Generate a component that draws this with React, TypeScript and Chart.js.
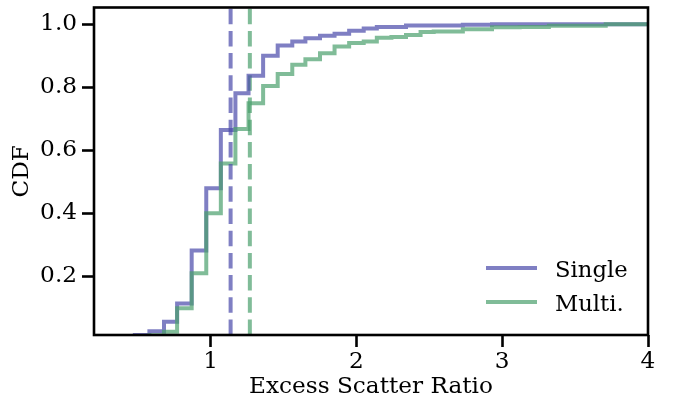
import React, { useEffect, useRef } from "react";
import { Chart, registerables } from "chart.js";

Chart.register(...registerables);

// Bin edges of the cumulative histograms (Excess Scatter Ratio)
const binEdges = [
  0.48, 0.58, 0.68, 0.77, 0.87, 0.97, 1.07, 1.17, 1.26, 1.36, 1.46, 1.56,
  1.65, 1.75, 1.85, 1.95, 2.05, 2.14, 2.24, 2.34, 2.44, 2.53, 2.63, 2.73,
  2.83, 2.93, 3.02, 3.12, 3.22, 3.32, 3.42, 3.51, 3.61, 3.71, 3.81, 3.9, 4.0,
];

// CDF value within each bin
const singleCdf = [
  0.013, 0.025, 0.055, 0.113, 0.281, 0.479, 0.664, 0.781, 0.836, 0.9, 0.932,
  0.945, 0.955, 0.963, 0.97, 0.979, 0.986, 0.991, 0.991, 0.996, 0.996, 0.996,
  0.996, 0.998, 0.998, 1.0, 1.0, 1.0, 1.0, 1.0, 1.0, 1.0, 1.0, 1.0, 1.0, 1.0,
];

const multiCdf = [
  0.004, 0.012, 0.023, 0.098, 0.209, 0.4, 0.558, 0.667, 0.749, 0.804, 0.842,
  0.871, 0.889, 0.908, 0.929, 0.94, 0.945, 0.957, 0.959, 0.966, 0.975, 0.977,
  0.977, 0.984, 0.984, 0.99, 0.99, 0.991, 0.991, 0.995, 0.995, 0.995, 0.995,
  1.0, 1.0, 1.0,
];

const singleMedian = 1.137;
const multiMedian = 1.269;

const seriesLabels = ["Single", "Multi."];
const xTicks = [1, 2, 3, 4];
const yTicks = [0.2, 0.4, 0.6, 0.8, 1.0];
const xRange = [0.2, 4.0];
const yRange = [0.013, 1.053];

const purple = "rgba(72, 72, 170, 0.7)";
const green = "rgba(74, 159, 108, 0.7)";
const FONT = "'DejaVu Serif', serif";
const FS = 23.2;

function stepPoints(edges: number[], cdf: number[]) {
  const pts: { x: number; y: number }[] = [{ x: edges[0], y: 0 }];
  cdf.forEach((c, i) => {
    pts.push({ x: edges[i], y: c });
    pts.push({ x: edges[i + 1], y: c });
  });
  return pts;
}

const framePlugin = {
  id: "frameLegend",
  afterDraw(chart: any) {
    const { ctx, chartArea: a } = chart;
    ctx.save();
    ctx.strokeStyle = "#000";
    ctx.lineWidth = 2.6;
    ctx.lineJoin = "miter";
    ctx.strokeRect(a.left, a.top, a.right - a.left, a.bottom - a.top);

    // legend (lower right)
    const colors = [purple, green];
    ctx.font = `${FS - 0.5}px ${FONT}`;
    ctx.fillStyle = "#000";
    ctx.textAlign = "left";
    ctx.textBaseline = "alphabetic";
    seriesLabels.forEach((lab, i) => {
      const y = a.bottom - 67 + i * 34;
      ctx.strokeStyle = colors[i];
      ctx.lineWidth = 4;
      ctx.lineCap = "butt";
      ctx.beginPath();
      ctx.moveTo(a.right - 162, y);
      ctx.lineTo(a.right - 111, y);
      ctx.stroke();
      ctx.fillText(lab, a.right - 93, y + 8.5);
    });
    ctx.restore();
  },
};

export default function App() {
  const ref = useRef<HTMLCanvasElement>(null);

  useEffect(() => {
    document.body.style.margin = "0";
    const canvas = ref.current!;
    const lineCommon = {
      pointRadius: 0,
      pointHoverRadius: 0,
      tension: 0,
      fill: false,
      borderJoinStyle: "miter" as const,
      borderCapStyle: "butt" as const,
      clip: 0,
    };
    const chart = new Chart(canvas, {
      type: "line",
      data: {
        datasets: [
          {
            ...lineCommon,
            label: "Single median",
            data: [
              { x: singleMedian, y: yRange[0] },
              { x: singleMedian, y: yRange[1] },
            ],
            borderColor: purple,
            borderWidth: 4,
            borderDash: [15.5, 6.7],
            order: 1,
          },
          {
            ...lineCommon,
            label: seriesLabels[1],
            data: stepPoints(binEdges, multiCdf),
            borderColor: green,
            borderWidth: 4,
            order: 2,
          },
          {
            ...lineCommon,
            label: seriesLabels[0],
            data: stepPoints(binEdges, singleCdf),
            borderColor: purple,
            borderWidth: 4,
            order: 3,
          },
          {
            ...lineCommon,
            label: "Multi. median",
            data: [
              { x: multiMedian, y: yRange[0] },
              { x: multiMedian, y: yRange[1] },
            ],
            borderColor: green,
            borderWidth: 4,
            borderDash: [15.5, 6.7],
            order: 4,
          },
        ],
      },
      options: {
        animation: false,
        responsive: false,
        devicePixelRatio: 1,
        layout: { padding: { top: 7.5, right: 25, left: 0, bottom: 0 } },
        plugins: {
          legend: { display: false },
          tooltip: { enabled: false },
        },
        scales: {
          x: {
            type: "linear",
            min: xRange[0],
            max: xRange[1],
            afterFit: (s: any) => {
              s.height = 68;
              s.paddingLeft = 0;
              s.paddingRight = 0;
            },
            afterBuildTicks: (s: any) => {
              s.ticks = xTicks.map((v) => ({ value: v }));
            },
            border: { display: false },
            grid: {
              drawOnChartArea: false,
              drawTicks: true,
              tickLength: 12,
              tickWidth: 2.6,
              tickColor: "#000",
            },
            ticks: {
              color: "#000",
              padding: 3,
              font: { family: FONT, size: FS, lineHeight: 1 },
              callback: (v: any) => String(v),
              maxRotation: 0,
            },
            title: {
              display: true,
              text: "Excess Scatter Ratio",
              color: "#000",
              font: { family: FONT, size: FS, lineHeight: 1 },
              padding: { top: 0, bottom: 4 },
            },
          },
          y: {
            type: "linear",
            min: yRange[0],
            max: yRange[1],
            afterFit: (s: any) => {
              s.width = 94;
              s.paddingTop = 0;
              s.paddingBottom = 0;
            },
            afterBuildTicks: (s: any) => {
              s.ticks = yTicks.map((v) => ({ value: v }));
            },
            border: { display: false },
            grid: {
              drawOnChartArea: false,
              drawTicks: true,
              tickLength: 12,
              tickWidth: 2.6,
              tickColor: "#000",
            },
            ticks: {
              color: "#000",
              padding: 5,
              font: { family: FONT, size: FS, lineHeight: 1 },
              callback: (v: any) => Number(v).toFixed(1),
            },
            title: {
              display: true,
              text: "CDF",
              color: "#000",
              font: { family: FONT, size: FS, lineHeight: 1 },
              padding: { top: 10.5, bottom: 0 },
            },
          },
        },
      },
      plugins: [framePlugin],
    });
    return () => chart.destroy();
  }, []);

  return (
    <div style={{ width: 673, height: 403, background: "#fff" }}>
      <canvas ref={ref} width={673} height={403} style={{ display: "block", width: 673, height: 403 }} />
    </div>
  );
}
